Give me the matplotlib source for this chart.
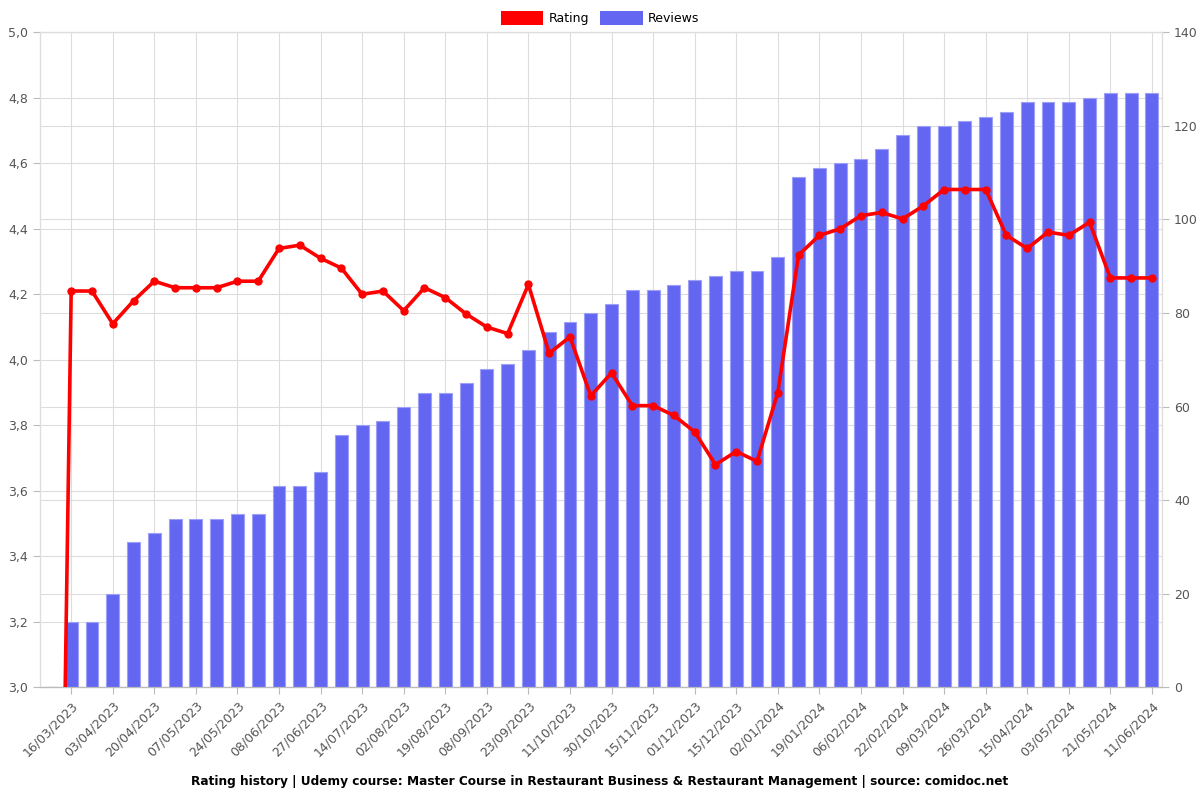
import matplotlib
matplotlib.use('Agg')
import matplotlib.pyplot as plt
from matplotlib.patches import Patch
from matplotlib.ticker import FuncFormatter

# first point is the empty start (no rating, no reviews yet)
ratings = [0.0, 4.21, 4.21, 4.11, 4.18, 4.24, 4.22, 4.22, 4.22, 4.24, 4.24,
           4.34, 4.35, 4.31, 4.28, 4.20, 4.21, 4.15, 4.22, 4.19, 4.14,
           4.10, 4.08, 4.23, 4.02, 4.07, 3.89, 3.96, 3.86, 3.86, 3.83,
           3.78, 3.68, 3.72, 3.69, 3.90, 4.32, 4.38, 4.40, 4.44, 4.45,
           4.43, 4.47, 4.52, 4.52, 4.52, 4.38, 4.34, 4.39, 4.38, 4.42,
           4.25, 4.25, 4.25]
reviews = [0, 14, 14, 20, 31, 33, 36, 36, 36, 37, 37,
           43, 43, 46, 54, 56, 57, 60, 63, 63, 65,
           68, 69, 72, 76, 78, 80, 82, 85, 85, 86,
           87, 88, 89, 89, 92, 109, 111, 112, 113, 115,
           118, 120, 120, 121, 122, 123, 125, 125, 125, 126,
           127, 127, 127]
tick_labels = ['16/03/2023', '03/04/2023', '20/04/2023', '07/05/2023', '24/05/2023',
               '08/06/2023', '27/06/2023', '14/07/2023', '02/08/2023', '19/08/2023',
               '08/09/2023', '23/09/2023', '11/10/2023', '30/10/2023', '15/11/2023',
               '01/12/2023', '15/12/2023', '02/01/2024', '19/01/2024', '06/02/2024',
               '22/02/2024', '09/03/2024', '26/03/2024', '15/04/2024', '03/05/2024',
               '21/05/2024', '11/06/2024']

x = list(range(len(ratings)))
tick_pos = x[1::2]

grid_c = '#dddddd'
text_c = '#555555'

fig = plt.figure(figsize=(12, 8), dpi=100)
rect = [40 / 1200, 1 - 687.3 / 800, (1162.3 - 40) / 1200, (687.3 - 32.3) / 800]

# back axes: left scale, its grid and labels
ax = fig.add_axes(rect)
ax.set_ylim(3.0, 5.0)
ax.set_yticks([3.0 + 0.2 * i for i in range(11)])
ax.yaxis.set_major_formatter(FuncFormatter(lambda v, p: f'{v:.1f}'.replace('.', ',')))
ax.set_xlim(-0.5, 53.5)
ax.set_xticks(tick_pos)
ax.set_xticklabels(tick_labels, rotation=45, ha='right', rotation_mode='anchor')
ax.grid(True, color=grid_c, linewidth=0.8)

# bars: reviews on the right scale
axr = ax.twinx()
axr.bar(x, reviews, width=0.62, color='#6366f1', edgecolor='#9ea0f7', linewidth=0.8, zorder=2)
axr.set_ylim(0, 140)
axr.set_yticks(range(0, 141, 20))
axr.grid(True, axis='y', color=grid_c, linewidth=0.8, zorder=0)
axr.set_axisbelow(True)

# line: rating on the left scale, drawn on top
axl = ax.twinx()
axl.plot(x, ratings, color='#ff0000', linewidth=2.6, marker='o', markersize=5, zorder=3)
axl.set_ylim(3.0, 5.0)
axl.set_yticks([])

for a in (ax, axr, axl):
    for s in a.spines.values():
        s.set_color('#dddddd')
    a.spines['bottom'].set_color('#bbbbbb')
    a.tick_params(colors='#bbbbbb', labelcolor=text_c, labelsize=9, length=5)

handles = [Patch(facecolor='#ff0000', label='Rating'),
           Patch(facecolor='#6366f1', label='Reviews')]
fig.legend(handles=handles, loc='upper center', bbox_to_anchor=(0.5, 1.0), ncol=2,
           frameon=False, fontsize=9, handlelength=3.4, handleheight=1.3,
           columnspacing=0.9, handletextpad=0.4)

fig.text(0.5, 1 - 782 / 800, 'Rating history | Udemy course: Master Course in Restaurant Business & '
         'Restaurant Management | source: comidoc.net',
         ha='center', va='center', fontsize=8.7, fontweight='bold')

fig.savefig('out.png', dpi=100)
